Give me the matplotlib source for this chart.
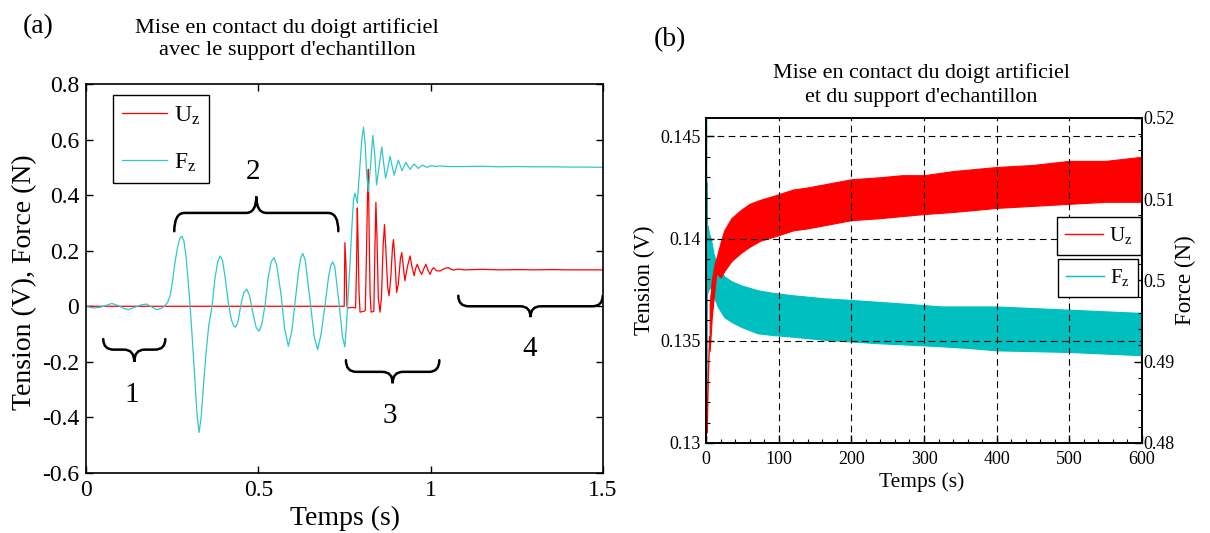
import matplotlib
matplotlib.use('Agg')
import matplotlib.pyplot as plt
import numpy as np
from matplotlib.path import Path
from matplotlib.patches import PathPatch
from matplotlib.lines import Line2D
from matplotlib.ticker import MultipleLocator

plt.rcParams['font.family'] = ['Liberation Serif', 'DejaVu Serif']
plt.rcParams['mathtext.fontset'] = 'custom'
plt.rcParams['mathtext.rm'] = 'Liberation Serif'
plt.rcParams['mathtext.it'] = 'Liberation Serif:italic'
plt.rcParams['axes.unicode_minus'] = False

# ---- panel (a): contact transient, 0 - 1.5 s ----
# (time s, value)
fz_a = [
    (0.000, 0.000), (0.020, -0.006), (0.040, -0.004), (0.060, 0.004), (0.075, 0.010),
    (0.095, 0.002), (0.110, -0.008), (0.123, -0.012), (0.140, -0.004), (0.160, 0.005),
    (0.176, 0.008), (0.190, -0.002), (0.205, -0.012), (0.218, -0.008), (0.229, 0.002),
    (0.237, 0.015), (0.244, 0.038), (0.251, 0.090), (0.258, 0.157), (0.266, 0.215),
    (0.272, 0.245), (0.278, 0.252), (0.284, 0.235), (0.290, 0.180), (0.296, 0.095),
    (0.302, 0.000), (0.309, -0.130), (0.316, -0.270), (0.322, -0.390), (0.328, -0.454),
    (0.334, -0.400), (0.341, -0.280), (0.348, -0.170), (0.356, -0.070), (0.366, 0.005),
    (0.374, 0.100), (0.382, 0.160), (0.389, 0.181), (0.396, 0.165), (0.404, 0.100),
    (0.413, 0.010), (0.422, -0.050), (0.429, -0.072), (0.434, -0.075), (0.440, -0.060),
    (0.450, 0.010), (0.458, 0.050), (0.466, 0.062), (0.474, 0.040), (0.485, -0.030),
    (0.494, -0.078), (0.502, -0.090), (0.510, -0.065), (0.520, 0.010), (0.528, 0.100),
    (0.537, 0.160), (0.545, 0.175), (0.553, 0.150), (0.566, 0.040), (0.576, -0.080),
    (0.587, -0.144), (0.597, -0.090), (0.607, 0.020), (0.616, 0.120), (0.623, 0.175),
    (0.629, 0.190), (0.636, 0.165), (0.651, 0.010), (0.662, -0.110), (0.672, -0.156),
    (0.682, -0.100), (0.694, 0.010), (0.704, 0.110), (0.711, 0.150), (0.716, 0.160),
    (0.722, 0.140), (0.735, 0.000), (0.744, -0.110), (0.751, -0.146), (0.756, -0.057),
    (0.761, 0.050), (0.766, 0.157), (0.771, 0.280), (0.776, 0.383), (0.780, 0.407),
    (0.787, 0.371), (0.795, 0.514), (0.800, 0.600), (0.805, 0.645), (0.810, 0.580),
    (0.814, 0.479), (0.819, 0.413), (0.825, 0.500), (0.832, 0.615), (0.838, 0.540),
    (0.843, 0.437), (0.850, 0.500), (0.858, 0.574), (0.863, 0.520), (0.869, 0.461),
    (0.876, 0.500), (0.882, 0.540), (0.888, 0.505), (0.894, 0.472), (0.900, 0.500),
    (0.906, 0.526), (0.912, 0.505), (0.917, 0.488), (0.923, 0.505), (0.928, 0.518),
    (0.934, 0.505), (0.940, 0.493), (0.946, 0.503), (0.952, 0.512), (0.958, 0.504),
    (0.964, 0.496), (0.970, 0.503), (0.977, 0.508), (0.984, 0.503), (0.990, 0.500),
    (0.996, 0.504), (1.003, 0.506), (1.015, 0.503), (1.027, 0.505), (1.050, 0.503),
    (1.100, 0.503), (1.150, 0.504), (1.200, 0.502), (1.250, 0.503), (1.300, 0.502),
    (1.350, 0.502), (1.400, 0.501), (1.450, 0.501), (1.500, 0.500),
]
uz_a = [
    (0.000, 0.000), (0.749, 0.000), (0.751, 0.229), (0.754, 0.150), (0.757, 0.000),
    (0.760, -0.006), (0.772, -0.004), (0.782, -0.006), (0.785, 0.150), (0.787, 0.354),
    (0.789, 0.250), (0.792, 0.050), (0.795, -0.021), (0.806, -0.018), (0.810, -0.015),
    (0.813, 0.150), (0.817, 0.420), (0.819, 0.493), (0.821, 0.300), (0.824, 0.050),
    (0.827, -0.021), (0.835, -0.018), (0.838, 0.200), (0.841, 0.374), (0.844, 0.250),
    (0.848, 0.030), (0.853, -0.021), (0.857, 0.030), (0.862, 0.220), (0.866, 0.294),
    (0.870, 0.200), (0.875, 0.070), (0.879, 0.038), (0.884, 0.100), (0.889, 0.210),
    (0.892, 0.240), (0.896, 0.170), (0.901, 0.050), (0.906, 0.080), (0.912, 0.170),
    (0.916, 0.193), (0.920, 0.150), (0.925, 0.092), (0.932, 0.140), (0.940, 0.181),
    (0.946, 0.140), (0.952, 0.110), (0.956, 0.135), (0.961, 0.151), (0.967, 0.130),
    (0.974, 0.115), (0.980, 0.135), (0.986, 0.151), (0.992, 0.130), (0.998, 0.115),
    (1.003, 0.130), (1.008, 0.139), (1.017, 0.128), (1.027, 0.127), (1.040, 0.136),
    (1.051, 0.139), (1.065, 0.130), (1.080, 0.134), (1.100, 0.131), (1.150, 0.133),
    (1.200, 0.131), (1.250, 0.132), (1.300, 0.131), (1.350, 0.132), (1.400, 0.131),
    (1.450, 0.131), (1.500, 0.131),
]

# braces: label, x start, x end, tip y, bar y, point y, label x, label y
braces = [
    ('1', 0.050, 0.230, -0.118, -0.156, -0.200, 0.132, -0.320),
    ('2', 0.256, 0.732, 0.270, 0.336, 0.395, 0.483, 0.485),
    ('3', 0.754, 1.025, -0.194, -0.236, -0.277, 0.882, -0.396),
    ('4', 1.080, 1.499, 0.038, 0.000, -0.039, 1.288, -0.152),
]

# ---- panel (b): long recording, 0 - 600 s ----
# Uz (left axis, V): initial transient then noisy band (upper / lower envelope)
uz_start_t = [0.0, 0.6, 1.0, 1.6, 2.2, 3.0, 4.0, 5.0]
uz_start_v = [0.1340, 0.1306, 0.1322, 0.1305, 0.1318, 0.1330, 0.1342, 0.1352]
uz_band_t = [5, 8, 12, 14, 20, 25, 35, 48, 60, 75, 94, 120, 140, 170, 200, 240,
             270, 300, 340, 370, 400, 450, 500, 550, 600]
uz_band_hi = [0.1368, 0.1380, 0.1388, 0.1390, 0.1398, 0.1404, 0.1410, 0.1414, 0.1417,
              0.1419, 0.1421, 0.1424, 0.1425, 0.1427, 0.1429, 0.1430, 0.1431, 0.1431,
              0.1433, 0.1434, 0.1435, 0.1436, 0.1438, 0.1438, 0.1440]
uz_band_lo = [0.1345, 0.1362, 0.1376, 0.1383, 0.1381, 0.1384, 0.1389, 0.1393, 0.1396,
              0.1399, 0.1401, 0.1404, 0.1405, 0.1407, 0.1409, 0.1410, 0.1411, 0.1412,
              0.1413, 0.1414, 0.1415, 0.1416, 0.1417, 0.1418, 0.1418]
# Fz (right axis, N)
fz_start_t = [0.0, 0.3, 0.6, 0.9, 1.2, 1.6, 2.0]
fz_start_v = [0.5200, 0.4800, 0.5200, 0.4820, 0.5120, 0.4960, 0.5066]
fz_band_t = [2, 4, 7, 10, 16, 25, 35, 48, 71, 90, 117, 140, 163, 200, 232, 280,
             324, 360, 400, 450, 500, 550, 600]
fz_band_hi = [0.5068, 0.5058, 0.5050, 0.5034, 0.5017, 0.5005, 0.4999, 0.4994, 0.4988,
              0.4985, 0.4982, 0.4980, 0.4978, 0.4976, 0.4974, 0.4971, 0.4968, 0.4968,
              0.4968, 0.4966, 0.4964, 0.4962, 0.4960]
fz_band_lo = [0.4985, 0.4990, 0.4992, 0.4982, 0.4968, 0.4955, 0.4949, 0.4943, 0.4935,
              0.4933, 0.4931, 0.4929, 0.4927, 0.4925, 0.4923, 0.4921, 0.4919, 0.4917,
              0.4914, 0.4913, 0.4912, 0.4910, 0.4908]

red = '#FF0000'
cyan_a = '#30C8C8'
cyan_b = '#00BFBF'


def brace(ax, x0, x1, y_tip, y_bar, y_point, r=0.03):
    xm = (x0 + x1) / 2
    verts = [(x0, y_tip), (x0, y_bar), (x0 + r, y_bar), (xm - r, y_bar),
             (xm, y_bar), (xm, y_point), (xm, y_bar), (xm + r, y_bar),
             (x1 - r, y_bar), (x1, y_bar), (x1, y_tip)]
    codes = [Path.MOVETO, Path.CURVE3, Path.CURVE3, Path.LINETO,
             Path.CURVE3, Path.CURVE3, Path.CURVE3, Path.CURVE3,
             Path.LINETO, Path.CURVE3, Path.CURVE3]
    ax.add_patch(PathPatch(Path(verts, codes), fill=False, lw=1.8, color='k',
                           capstyle='round'))


fig = plt.figure(figsize=(12.1, 5.33), dpi=100)

# ---------------- (a) ----------------
ax1 = fig.add_axes([0.0711, 0.1126, 0.4273, 0.7298])
fa = np.array(fz_a)
ua = np.array(uz_a)
ax1.plot(ua[:, 0], ua[:, 1], color=red, lw=0.9, label='U$_\\mathrm{z}$')
ax1.plot(fa[:, 0], fa[:, 1], color=cyan_a, lw=0.9, label='F$_\\mathrm{z}$')
ax1.set_xlim(0, 1.5)
ax1.set_ylim(-0.6, 0.8)
ax1.set_xticks([0, 0.5, 1, 1.5])
ax1.set_xticklabels(['0', '0.5', '1', '1.5'])
yt = [-0.6, -0.4, -0.2, 0, 0.2, 0.4, 0.6, 0.8]
ax1.set_yticks(yt)
ax1.set_yticklabels(['-0.6', '-0.4', '-0.2', '0', '0.2', '0.4', '0.6', '0.8'])
ax1.tick_params(direction='in', length=5, width=1, top=True, right=True,
                labelsize=17, pad=5)
for s in ax1.spines.values():
    s.set_linewidth(1.2)
ax1.set_xlabel('Temps (s)', fontsize=20)
ax1.set_ylabel('Tension (V), Force (N)', fontsize=20)
ax1.xaxis.set_label_coords(0.5, -0.085)
ax1.yaxis.set_label_coords(-0.095, 0.49)
for lab, x0, x1, yt_, yb, yp, lx, ly in braces:
    brace(ax1, x0, x1, yt_, yb, yp)
    ax1.text(lx, ly, lab, fontsize=21, ha='center', va='center')
leg = ax1.legend(loc='upper left', bbox_to_anchor=(0.052, 0.972), borderaxespad=0,
                 fontsize=17, handlelength=1.9, handletextpad=0.28, labelspacing=1.05,
                 borderpad=0.4, fancybox=False, edgecolor='k', framealpha=1)
leg.get_frame().set_linewidth(1.0)

fig.text(23 / 1210, 1 - 27 / 533, '(a)', fontsize=20, ha='left', va='center')
fig.text(287 / 1210, 1 - 39 / 533,
         "Mise en contact du doigt artificiel\navec le support d'echantillon",
         fontsize=16.1, ha='center', va='center', linespacing=1.25)

# ---------------- (b) ----------------
ax = fig.add_axes([0.5835, 0.1689, 0.3603, 0.6098])
ax2 = ax.twinx()
ax.set_zorder(ax2.get_zorder() + 1)
ax.patch.set_visible(False)

ax2.plot(fz_start_t, fz_start_v, color=cyan_b, lw=1.0)
ax2.fill_between(fz_band_t, fz_band_lo, fz_band_hi, color=cyan_b, lw=0.8)
ax.plot(uz_start_t, uz_start_v, color=red, lw=1.0)
ax.fill_between(uz_band_t, uz_band_lo, uz_band_hi, color=red, lw=0.8)

ax.set_xlim(0, 600)
ax.set_ylim(0.13, 0.1459)
ax2.set_ylim(0.48, 0.52)
ax.set_xticks(range(0, 601, 100))
ax.xaxis.set_minor_locator(MultipleLocator(20))
ax.set_yticks([0.13, 0.135, 0.14, 0.145])
ax.set_yticklabels(['0.13', '0.135', '0.14', '0.145'])
ax.yaxis.set_minor_locator(MultipleLocator(0.001))
ax2.set_yticks([0.48, 0.49, 0.5, 0.51, 0.52])
ax2.set_yticklabels(['0.48', '0.49', '0.5', '0.51', '0.52'])
ax2.yaxis.set_minor_locator(MultipleLocator(0.002))
ax.tick_params(which='both', direction='in', top=False, right=False, labelsize=13)
ax.tick_params(axis='x', pad=6)
ax.tick_params(axis='y', pad=4)
ax.tick_params(which='major', length=6, width=1)
ax.tick_params(which='minor', length=3, width=0.8)
ax2.tick_params(which='both', direction='in', labelsize=13, pad=1)
ax2.tick_params(which='major', length=6, width=1)
ax2.tick_params(which='minor', length=3, width=0.8)
ax.grid(True, which='major', color='k', linestyle=(0, (6, 4)), linewidth=0.8)
ax.set_axisbelow(False)
for s in list(ax.spines.values()) + list(ax2.spines.values()):
    s.set_linewidth(1.2)

ax.set_xlabel('Temps (s)', fontsize=15.5)
ax.set_ylabel('Tension (V)', fontsize=16.5)
ax2.set_ylabel('Force (N)', fontsize=16.5)
ax.xaxis.set_label_coords(0.495, -0.09)
ax.yaxis.set_label_coords(-0.117, 0.5)
ax2.yaxis.set_label_coords(1.076, 0.5)

h_uz = Line2D([], [], color=red, lw=1.0, label='U$_\\mathrm{z}$')
h_fz = Line2D([], [], color=cyan_b, lw=1.0, label='F$_\\mathrm{z}$')
kw = dict(loc='upper left', borderaxespad=0, fontsize=15, handlelength=1.8,
          handletextpad=0.3, borderpad=0.4, fancybox=False, edgecolor='k',
          framealpha=1)
leg1 = ax.legend(handles=[h_uz], bbox_to_anchor=(0.805, 0.695), **kw)
leg1.get_frame().set_linewidth(1.0)
ax.add_artist(leg1)
leg2 = ax.legend(handles=[h_fz], bbox_to_anchor=(0.807, 0.566), **kw)
leg2.get_frame().set_linewidth(1.0)

fig.text(670 / 1210, 1 - 40 / 533, '(b)', fontsize=20, ha='center', va='center')
fig.text(921 / 1210, 1 - 85 / 533,
         "Mise en contact du doigt artificiel\net du support d'echantillon",
         fontsize=15.8, ha='center', va='center', linespacing=1.3)

fig.savefig('out.png', dpi=100)
